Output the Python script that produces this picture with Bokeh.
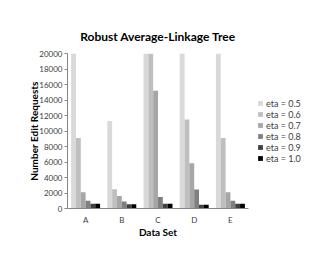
from bokeh.plotting import figure
from bokeh.models import Range1d, FactorRange, Legend, LegendItem, FixedTicker, ColumnDataSource
from bokeh.transform import dodge
from bokeh.embed import file_html
from bokeh.resources import INLINE

cats = ["A", "B", "C", "D", "E"]
series_labels = ["eta = 0.5", "eta = 0.6", "eta = 0.7", "eta = 0.8", "eta = 0.9", "eta = 1.0"]
eta05 = [20000, 11300, 20000, 20000, 20000]
eta06 = [9100, 2500, 20000, 11500, 9100]
eta07 = [2100, 1600, 15200, 5850, 2100]
eta08 = [1000, 900, 1500, 2450, 1000]
eta09 = [600, 550, 600, 500, 600]
eta10 = [600, 550, 600, 500, 600]
y_ticks = [0, 2000, 4000, 6000, 8000, 10000, 12000, 14000, 16000, 18000, 20000]

series = [eta05, eta06, eta07, eta08, eta09, eta10]
colors = ["#D9D9D9", "#BFBFBF", "#A6A6A6", "#808080", "#404040", "#000000"]

FONT = "Lato"

p = figure(frame_width=181, frame_height=155, x_range=FactorRange(factors=cats), y_range=Range1d(0, 20000),
           output_backend="svg", toolbar_location=None,
           min_border_left=67, min_border_right=79, min_border_top=53, min_border_bottom=65)

p.title.text = "Robust Average-Linkage Tree"
p.title.align = "center"
p.title.offset = 7
p.title.standoff = 19
p.title.text_font = FONT
p.title.text_font_size = "12px"
p.title.text_font_style = "bold"
p.title.text_color = "#000000"

data = {"cat": cats}
for i, s in enumerate(series):
    data[f"s{i}"] = s
src = ColumnDataSource(data)

bw = 0.8 / 6
items = []
for i in range(6):
    off = -0.4 + bw * (i + 0.5)
    r = p.vbar(x=dodge("cat", off, range=p.x_range), top=f"s{i}", width=bw, source=src,
               fill_color=colors[i], line_color=None)
    items.append(LegendItem(label=series_labels[i], renderers=[r]))

legend = Legend(items=items, location="center_left")
legend.border_line_color = None
legend.background_fill_alpha = 0
legend.label_text_font = FONT
legend.label_text_font_size = "9px"
legend.label_text_color = "#404040"
legend.glyph_width = 6
legend.glyph_height = 6
legend.label_height = 11
legend.label_standoff = 3
legend.spacing = 0
legend.padding = 0
legend.margin = 9
p.add_layout(legend, "right")

p.xgrid.grid_line_color = None
p.ygrid.grid_line_color = None
p.outline_line_color = None

p.yaxis.ticker = FixedTicker(ticks=y_ticks)
p.yaxis.minor_tick_line_color = None
p.yaxis.major_tick_in = 0
p.yaxis.major_tick_out = 3
p.yaxis.axis_line_color = "#868686"
p.yaxis.major_tick_line_color = "#868686"
p.yaxis.major_label_text_font = FONT
p.yaxis.major_label_text_font_size = "8px"
p.yaxis.major_label_text_color = "#404040"
p.yaxis.major_label_standoff = 2
p.yaxis.axis_label = "Number Edit Requests"
p.yaxis.axis_label_text_font = FONT
p.yaxis.axis_label_text_font_size = "10px"
p.yaxis.axis_label_text_font_style = "bold"
p.yaxis.axis_label_text_color = "#000000"
p.yaxis.axis_label_standoff = -4

p.xaxis.major_tick_line_color = None
p.xaxis.minor_tick_line_color = None
p.xaxis.axis_line_color = "#868686"
p.xaxis.major_label_text_font = FONT
p.xaxis.major_label_text_font_size = "8px"
p.xaxis.major_label_text_color = "#404040"
p.xaxis.major_label_standoff = 0
p.xaxis.axis_label = "Data Set"
p.xaxis.axis_label_text_font = FONT
p.xaxis.axis_label_text_font_size = "10px"
p.xaxis.axis_label_text_font_style = "bold"
p.xaxis.axis_label_text_color = "#000000"
p.xaxis.axis_label_standoff = -2

open("out.html", "w").write(file_html(p, INLINE))
